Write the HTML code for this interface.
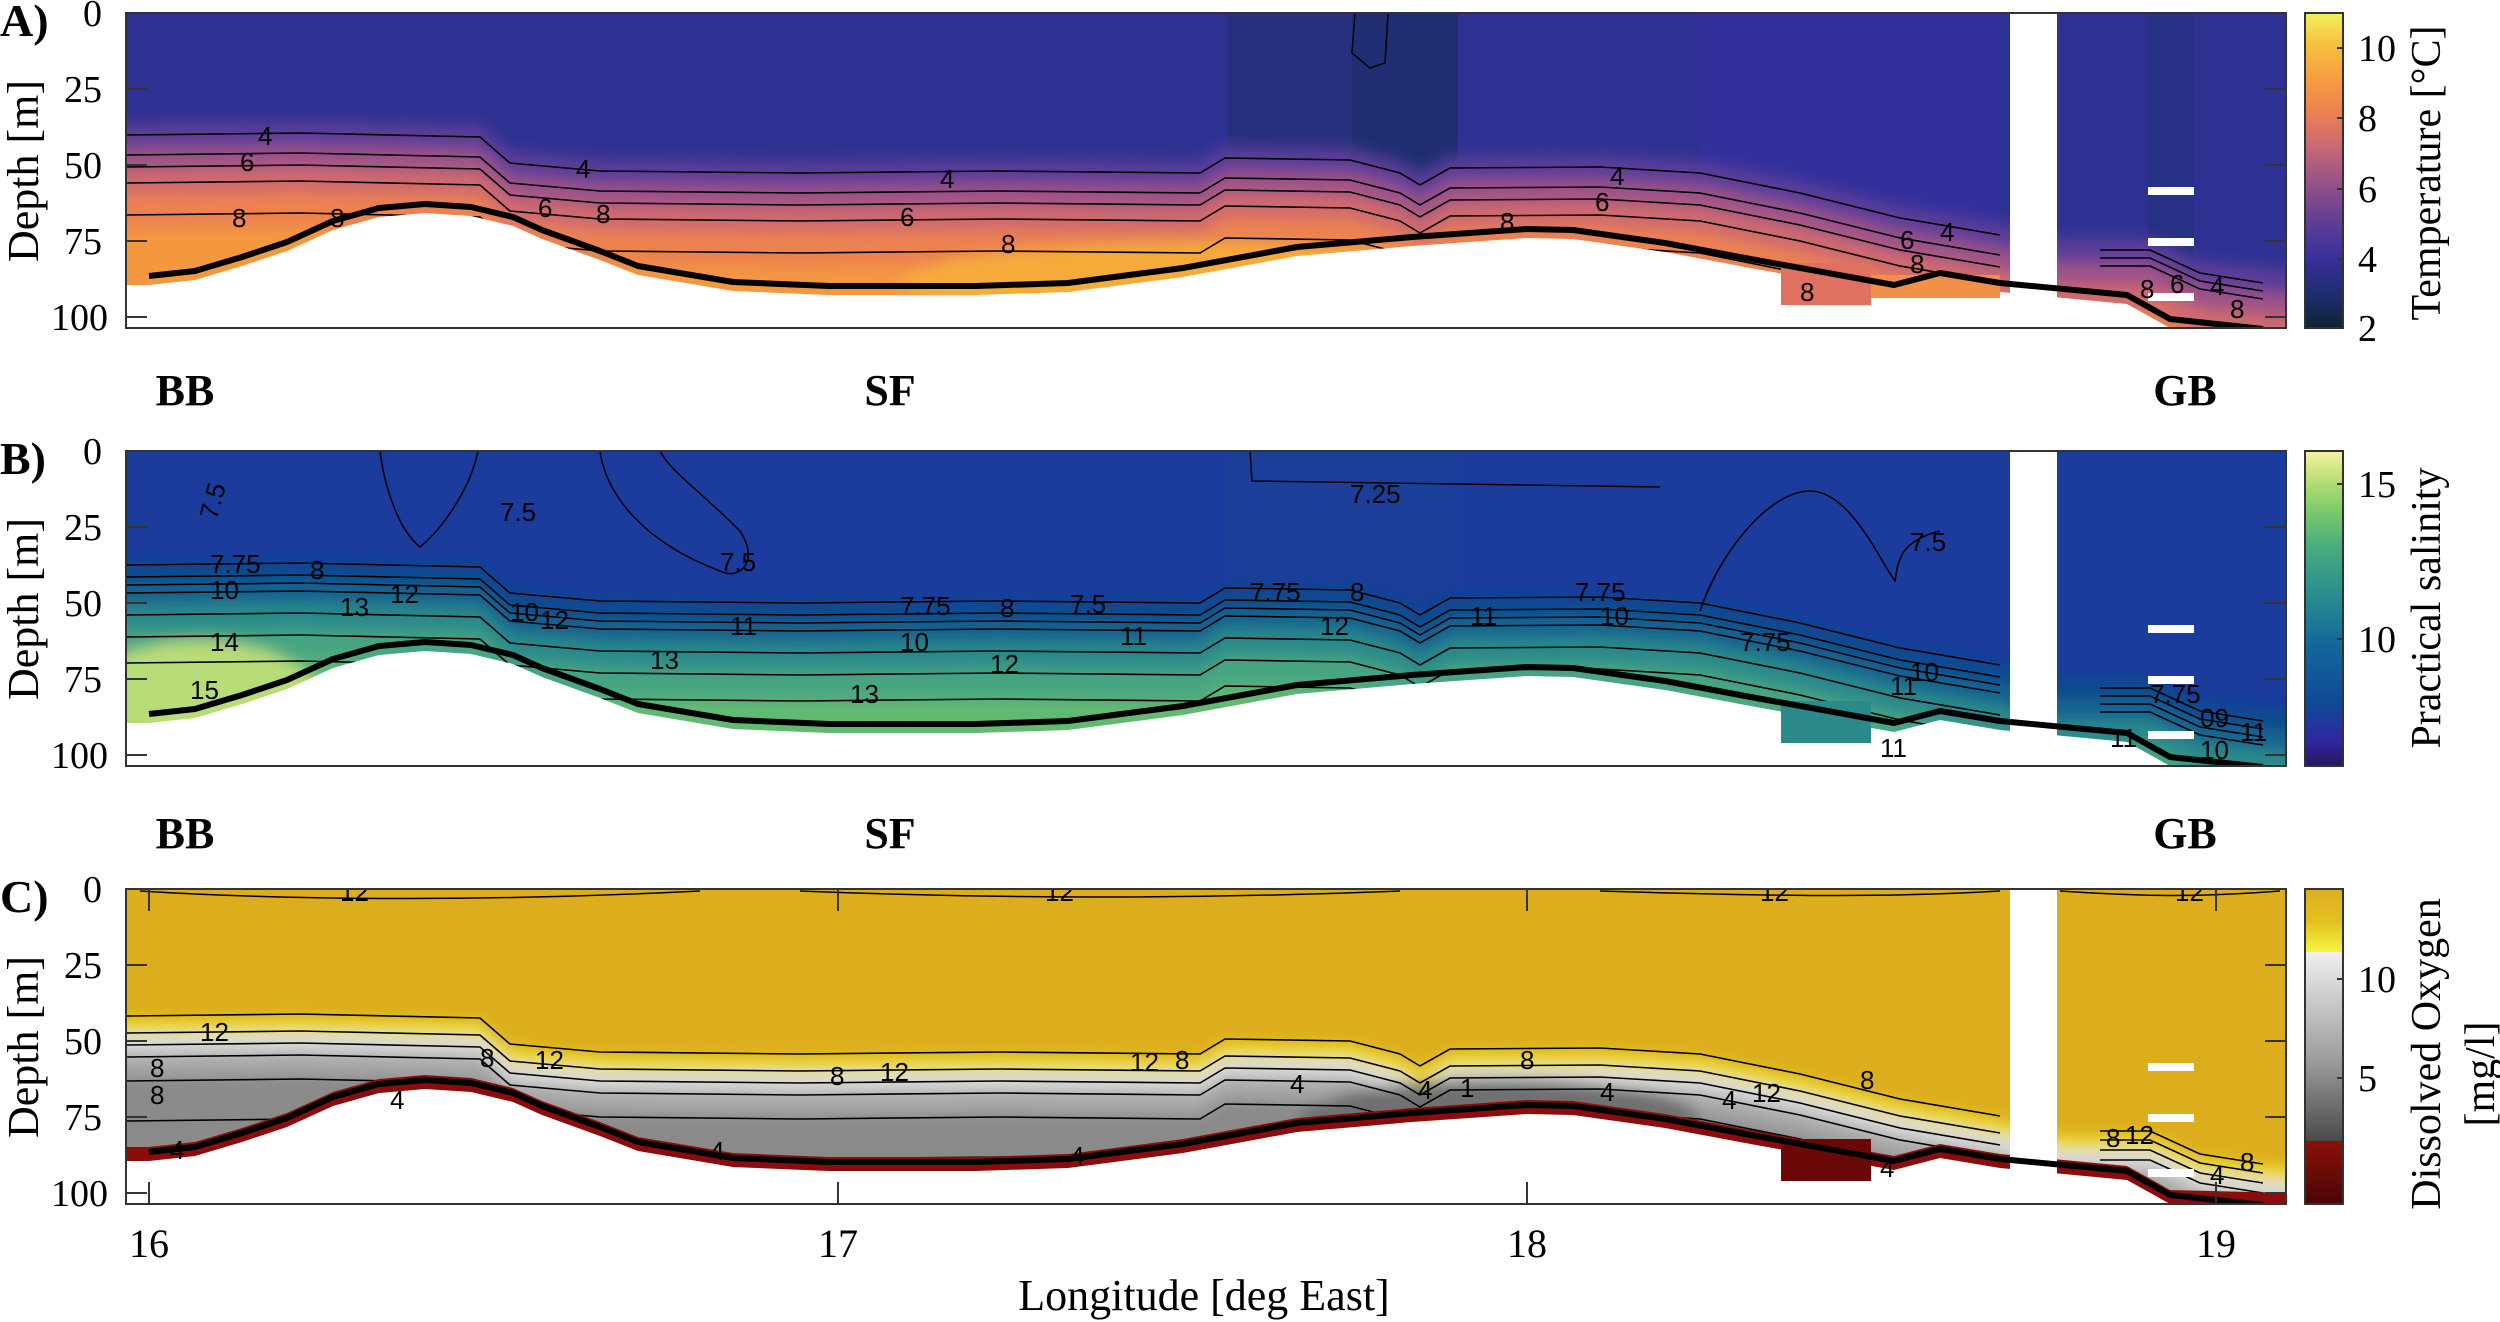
<!DOCTYPE html>
<html><head><meta charset="utf-8"><style>
html,body{margin:0;padding:0;background:#fff;overflow:hidden;width:2500px;height:1322px;}
svg{display:block;font-family:"Liberation Serif",serif;}
</style></head><body>
<svg width="2500" height="1322" viewBox="0 0 2500 1322" xmlns="http://www.w3.org/2000/svg" overflow="hidden">
<defs>
<clipPath id="clip"><rect x="126" y="0" width="2160" height="315"/></clipPath>
<filter id="blur" x="-10%" y="-50%" width="120%" height="200%"><feGaussianBlur stdDeviation="7"/></filter>
<polygon id="band" points="100,122 300,120 480,124 510,150 600,158 800,160 1000,158 1200,160 1225,145 1350,147 1400,160 1420,172 1450,155 1600,154 1700,160 1800,180 1900,205 2000,222 2057,237 2150,237 2200,260 2300,270 2300,440 100,440"/>
<polyline id="cl" fill="none" stroke="#000" stroke-width="1.6" points="126,122 300,120 480,124 510,150 600,158 800,160 1000,158 1200,160 1225,145 1350,147 1400,160 1420,172 1450,155 1600,154 1700,160 1800,180 1900,205 2000,222"/>
<polyline id="clg" fill="none" stroke="#000" stroke-width="1.6" points="2100,237 2150,237 2200,260 2263,270"/>
<polygon id="floor" points="126,272 149,272 195,267 242,253 287,238 333,217 379,204 425,200 471,203 513,213 542,226 600,247 638,262 733,278 829,282 976,282 1068,279 1183,264 1297,243 1412,233 1527,225 1573,226 1665,239 1756,256 1894,281 1940,269 2000,279 2127,291 2170,315 2290,318 2290,330 120,330 120,272"/>
<polyline id="bath" fill="none" stroke="#000" stroke-width="6" stroke-linejoin="round" points="149,263 195,258 242,244 287,229 333,208 379,195 425,191 471,194 513,204 542,217 600,238 638,253 733,269 829,273 976,273 1068,270 1183,255 1297,234 1412,224 1527,216 1573,217 1665,230 1756,247 1894,272 1940,260 2000,270 2127,282 2170,306 2263,316"/>
<linearGradient id="gT" x1="0" y1="1" x2="0" y2="0">
<stop offset="0" stop-color="#0b2430"/><stop offset="0.1" stop-color="#1d2c6e"/><stop offset="0.22" stop-color="#3a2f9a"/><stop offset="0.33" stop-color="#5c3d96"/><stop offset="0.45" stop-color="#8f5088"/><stop offset="0.56" stop-color="#c4667a"/><stop offset="0.67" stop-color="#eb7d55"/><stop offset="0.78" stop-color="#f59a40"/><stop offset="0.9" stop-color="#f7c040"/><stop offset="1" stop-color="#eef25a"/>
</linearGradient>
<linearGradient id="gS" x1="0" y1="1" x2="0" y2="0">
<stop offset="0" stop-color="#2a1660"/><stop offset="0.08" stop-color="#2e27a0"/><stop offset="0.2" stop-color="#0f4a96"/><stop offset="0.38" stop-color="#12679a"/><stop offset="0.55" stop-color="#2a8f8e"/><stop offset="0.7" stop-color="#4aad7e"/><stop offset="0.82" stop-color="#80cc68"/><stop offset="0.92" stop-color="#c2e07a"/><stop offset="1" stop-color="#f6f2a4"/>
</linearGradient>
<linearGradient id="gO" x1="0" y1="1" x2="0" y2="0">
<stop offset="0" stop-color="#4a0505"/><stop offset="0.2" stop-color="#8a1208"/><stop offset="0.2" stop-color="#4a4a4a"/><stop offset="0.45" stop-color="#9a9a9a"/><stop offset="0.8" stop-color="#f0f0f0"/><stop offset="0.8" stop-color="#f4f540"/><stop offset="0.9" stop-color="#e3bf22"/><stop offset="1" stop-color="#dcae1e"/>
</linearGradient>
</defs>

<!-- ========== PANEL A ========== -->
<g transform="translate(0,13)">
<g clip-path="url(#clip)">
<rect x="126" y="0" width="2160" height="315" fill="#2f3192"/>
<rect x="1228" y="0" width="230" height="315" fill="#26307f"/>
<rect x="1352" y="0" width="106" height="315" fill="#1f2e72"/>
<rect x="1700" y="0" width="300" height="315" fill="#33309c"/>
<rect x="2148" y="0" width="46" height="315" fill="#263084"/>
<g filter="url(#blur)">
<use href="#band" transform="translate(0,-12)" fill="#5a3c98"/>
<use href="#band" transform="translate(0,12)" fill="#9c5388"/>
<use href="#band" transform="translate(0,35)" fill="#d06a6c"/>
<use href="#band" transform="translate(0,60)" fill="#ec8250"/>
<use href="#band" transform="translate(0,95)" fill="#f4983f"/>
<ellipse cx="1200" cy="270" rx="300" ry="40" fill="#f6ab3a"/>
</g>
<use href="#cl"/><use href="#cl" transform="translate(0,20)"/><use href="#cl" transform="translate(0,32)"/><use href="#cl" transform="translate(0,48)"/><use href="#cl" transform="translate(0,80)"/>
<use href="#clg"/><use href="#clg" transform="translate(0,8)"/><use href="#clg" transform="translate(0,16)"/>
<use href="#floor" fill="#fff"/>
<rect x="1781" y="250" width="90" height="42" fill="#e07060"/>
<rect x="1871" y="262" width="129" height="23" fill="#f19048"/>
<rect x="2010" y="0" width="47" height="315" fill="#fff"/>
<g fill="#fff"><rect x="2148" y="174" width="46" height="8"/><rect x="2148" y="225" width="46" height="8"/><rect x="2148" y="280" width="46" height="8"/></g>
<path d="M1355,0 L1352,40 L1370,55 L1385,50 L1388,0" fill="none" stroke="#000" stroke-width="1.5"/>
<g font-family="Liberation Sans,sans-serif" font-size="26" fill="#000">
<text x="258" y="132">4</text><text x="240" y="158">6</text><text x="232" y="214">8</text><text x="330" y="214">8</text><text x="576" y="165">4</text><text x="538" y="204">6</text><text x="596" y="210">8</text>
<text x="940" y="175">4</text><text x="900" y="213">6</text><text x="1001" y="240">8</text><text x="1610" y="172">4</text><text x="1595" y="198">6</text><text x="1500" y="218">8</text>
<text x="1940" y="228">4</text><text x="1900" y="236">6</text><text x="1910" y="260">8</text><text x="1800" y="288">8</text><text x="2140" y="285">8</text><text x="2170" y="280">6</text><text x="2210" y="282">4</text><text x="2230" y="305">8</text>
</g>
<use href="#bath"/>
</g>
<rect x="126" y="0" width="2160" height="315" fill="none" stroke="#333" stroke-width="2"/>
<g stroke="#333" stroke-width="2"><path d="M126,76h21M126,152h21M126,228h21M126,304h21M2286,76h-21M2286,152h-21M2286,228h-21M2286,304h-21"/></g>
<rect x="2305" y="0" width="38" height="315" fill="url(#gT)" stroke="#333" stroke-width="2"/>
<path d="M2343,35h-6M2343,105h-6M2343,176h-6M2343,246h-6" stroke="#333" stroke-width="2"/>
<g font-size="38" text-anchor="start"><text x="2358" y="48">10</text><text x="2358" y="118">8</text><text x="2358" y="189">6</text><text x="2358" y="259">4</text><text x="2358" y="328">2</text></g>
<text transform="translate(2440,160) rotate(-90)" font-size="42" text-anchor="middle">Temperature [°C]</text>
<g font-size="38" text-anchor="end"><text x="102" y="13">0</text><text x="102" y="89">25</text><text x="102" y="165">50</text><text x="102" y="241">75</text><text x="108" y="317">100</text></g>
<text transform="translate(38,158) rotate(-90)" font-size="44" text-anchor="middle">Depth [m]</text>
<text x="0" y="23" font-size="46" font-weight="bold">A)</text>
</g>

<!-- labels row -->
<g font-size="44" font-weight="bold" text-anchor="middle">
<text x="185" y="405">BB</text><text x="890" y="405">SF</text><text x="2185" y="405">GB</text>
<text x="185" y="848">BB</text><text x="890" y="848">SF</text><text x="2185" y="848">GB</text>
</g>

<!-- ========== PANEL B ========== -->
<g transform="translate(0,451)">
<g clip-path="url(#clip)">
<rect x="126" y="0" width="2160" height="315" fill="#1b3c9c"/>
<rect x="1228" y="0" width="230" height="315" fill="#1b3e98"/>
<g filter="url(#blur)">
<use href="#band" transform="translate(0,-10)" fill="#11498f"/>
<use href="#band" transform="translate(0,10)" fill="#176390"/>
<use href="#band" transform="translate(0,32)" fill="#2a8a8a"/>
<use href="#band" transform="translate(0,58)" fill="#46a582"/>
<use href="#band" transform="translate(0,90)" fill="#62ba72"/>
<ellipse cx="200" cy="250" rx="120" ry="60" fill="#b8dc78"/>
</g>
<use href="#cl" transform="translate(0,-8)"/><use href="#cl" transform="translate(0,4)"/><use href="#cl" transform="translate(0,12)"/><use href="#cl" transform="translate(0,20)"/><use href="#cl" transform="translate(0,42)"/><use href="#cl" transform="translate(0,64)"/><use href="#cl" transform="translate(0,90)"/>
<use href="#clg"/><use href="#clg" transform="translate(0,8)"/><use href="#clg" transform="translate(0,16)"/><use href="#clg" transform="translate(0,24)"/>
<use href="#floor" fill="#fff"/>
<rect x="1781" y="250" width="90" height="42" fill="#2a8a8a"/>
<rect x="2010" y="0" width="47" height="315" fill="#fff"/>
<g fill="#fff"><rect x="2148" y="174" width="46" height="8"/><rect x="2148" y="225" width="46" height="8"/><rect x="2148" y="280" width="46" height="8"/></g>
<g fill="none" stroke="#000" stroke-width="1.5">
<path d="M380,0 C385,40 400,80 420,96 C440,80 470,40 478,0"/>
<path d="M600,0 C605,40 640,90 720,120 C740,130 760,110 740,80 C700,40 670,20 660,0"/>
<path d="M1250,0 L1252,30 L1660,36"/>
<path d="M1700,160 C1720,100 1770,40 1810,40 C1850,40 1880,110 1895,130 C1898,110 1900,90 1940,80"/>
</g>
<g font-family="Liberation Sans,sans-serif" font-size="26" fill="#000">
<text x="200" y="64" transform="rotate(-75 212 56)">7.5</text><text x="500" y="70">7.5</text><text x="720" y="120">7.5</text><text x="1350" y="52">7.25</text><text x="1910" y="100">7.5</text>
<text x="210" y="122">7.75</text><text x="310" y="128">8</text><text x="210" y="148">10</text><text x="340" y="165">13</text><text x="210" y="200">14</text><text x="190" y="248">15</text>
<text x="390" y="152">12</text><text x="510" y="170">10</text><text x="540" y="178">12</text><text x="650" y="218">13</text>
<text x="900" y="164">7.75</text><text x="1000" y="166">8</text><text x="1070" y="162">7.5</text><text x="900" y="200">10</text><text x="730" y="184">11</text><text x="990" y="222">12</text><text x="1120" y="194">11</text><text x="850" y="252">13</text>
<text x="1250" y="150">7.75</text><text x="1350" y="150">8</text><text x="1575" y="150">7.75</text><text x="1470" y="174">11</text><text x="1320" y="184">12</text><text x="1600" y="174">10</text>
<text x="1740" y="200">7.75</text><text x="1890" y="244">11</text><text x="1910" y="230">10</text><text x="1880" y="306">11</text><text x="2150" y="252">7.75</text><text x="2110" y="296">11</text><text x="2200" y="276">09</text><text x="2240" y="290">11</text><text x="2200" y="308">10</text>
</g>
<use href="#bath"/>
</g>
<rect x="126" y="0" width="2160" height="315" fill="none" stroke="#333" stroke-width="2"/>
<g stroke="#333" stroke-width="2"><path d="M126,76h21M126,152h21M126,228h21M126,304h21M2286,76h-21M2286,152h-21M2286,228h-21M2286,304h-21"/></g>
<rect x="2305" y="0" width="38" height="315" fill="url(#gS)" stroke="#333" stroke-width="2"/>
<path d="M2343,33h-6M2343,188h-6" stroke="#333" stroke-width="2"/>
<g font-size="38"><text x="2358" y="46">15</text><text x="2358" y="201">10</text></g>
<text transform="translate(2440,157) rotate(-90)" font-size="42" text-anchor="middle">Practical salinity</text>
<g font-size="38" text-anchor="end"><text x="102" y="13">0</text><text x="102" y="89">25</text><text x="102" y="165">50</text><text x="102" y="241">75</text><text x="108" y="317">100</text></g>
<text transform="translate(38,158) rotate(-90)" font-size="44" text-anchor="middle">Depth [m]</text>
<text x="0" y="23" font-size="46" font-weight="bold">B)</text>
</g>

<!-- ========== PANEL C ========== -->
<g transform="translate(0,889)">
<g clip-path="url(#clip)">
<rect x="126" y="0" width="2160" height="315" fill="#dcae1e"/>
<g filter="url(#blur)">
<use href="#band" transform="translate(0,10)" fill="#eede30"/>
<use href="#band" transform="translate(0,24)" fill="#dadada"/>
<use href="#band" transform="translate(0,42)" fill="#a8a8a8"/>
<use href="#band" transform="translate(0,65)" fill="#8a8a8a"/>
<ellipse cx="1500" cy="230" rx="200" ry="40" fill="#707070"/>
</g>
<path d="M140,2 C300,12 500,12 700,2 M800,2 C1000,10 1200,10 1400,2 M1600,2 C1800,8 1900,8 2000,2 M2060,2 C2150,8 2200,8 2280,2" fill="none" stroke="#000" stroke-width="1.5"/>
<use href="#cl" transform="translate(0,5)"/><use href="#cl" transform="translate(0,22)"/><use href="#cl" transform="translate(0,34)"/><use href="#cl" transform="translate(0,46)"/><use href="#cl" transform="translate(0,70)"/><use href="#cl" transform="translate(0,110)"/>
<use href="#clg" transform="translate(0,5)"/><use href="#clg" transform="translate(0,14)"/><use href="#clg" transform="translate(0,24)"/><use href="#clg" transform="translate(0,34)"/>
<use href="#floor" transform="translate(0,-14)" fill="#8b0c0c"/>
<use href="#floor" fill="#fff"/>
<rect x="1781" y="250" width="90" height="42" fill="#6a0808"/>
<rect x="2010" y="0" width="47" height="315" fill="#fff"/>
<g fill="#fff"><rect x="2148" y="174" width="46" height="8"/><rect x="2148" y="225" width="46" height="8"/><rect x="2148" y="280" width="46" height="8"/></g>
<g font-family="Liberation Sans,sans-serif" font-size="26" fill="#000">
<text x="340" y="12">12</text><text x="1045" y="12">12</text><text x="1760" y="12">12</text><text x="2175" y="12">12</text>
<text x="200" y="152">12</text><text x="150" y="188">8</text><text x="150" y="215">8</text><text x="170" y="270">4</text><text x="390" y="220">4</text>
<text x="480" y="178">8</text><text x="535" y="180">12</text><text x="830" y="196">8</text><text x="880" y="192">12</text><text x="1130" y="182">12</text><text x="1175" y="180">8</text><text x="1290" y="204">4</text>
<text x="1418" y="210">4</text><text x="1460" y="208">1</text><text x="1520" y="180">8</text><text x="1600" y="212">4</text><text x="1752" y="213">12</text><text x="1722" y="220">4</text><text x="1860" y="200">8</text>
<text x="710" y="271">4</text><text x="1070" y="276">4</text><text x="1880" y="288">4</text><text x="2106" y="258">8</text><text x="2125" y="255">12</text><text x="2210" y="295">4</text><text x="2240" y="282">8</text>
</g>
<use href="#bath"/>
</g>
<rect x="126" y="0" width="2160" height="315" fill="none" stroke="#333" stroke-width="2"/>
<g stroke="#333" stroke-width="2"><path d="M126,76h21M126,152h21M126,228h21M126,304h21M2286,76h-21M2286,152h-21M2286,228h-21M2286,304h-21M149,315v-22M838,315v-22M1527,315v-22M2216,315v-22M149,0v22M838,0v22M1527,0v22M2216,0v22"/></g>
<rect x="2305" y="0" width="38" height="315" fill="url(#gO)" stroke="#333" stroke-width="2"/>
<path d="M2343,90h-6M2343,189h-6" stroke="#333" stroke-width="2"/>
<g font-size="38"><text x="2358" y="103">10</text><text x="2358" y="202">5</text></g>
<text transform="translate(2440,165) rotate(-90)" font-size="42" text-anchor="middle">Dissolved Oxygen</text>
<text transform="translate(2494,185) rotate(-90)" font-size="42" text-anchor="middle">[mg/l]</text>
<g font-size="38" text-anchor="end"><text x="102" y="13">0</text><text x="102" y="89">25</text><text x="102" y="165">50</text><text x="102" y="241">75</text><text x="108" y="317">100</text></g>
<text transform="translate(38,158) rotate(-90)" font-size="44" text-anchor="middle">Depth [m]</text>
<text x="0" y="23" font-size="46" font-weight="bold">C)</text>
</g>

<g font-size="40" text-anchor="middle">
<text x="149" y="1257">16</text><text x="838" y="1257">17</text><text x="1527" y="1257">18</text><text x="2216" y="1257">19</text>
</g>
<text x="1204" y="1310" font-size="44" text-anchor="middle">Longitude [deg East]</text>
</svg>
</body></html>
